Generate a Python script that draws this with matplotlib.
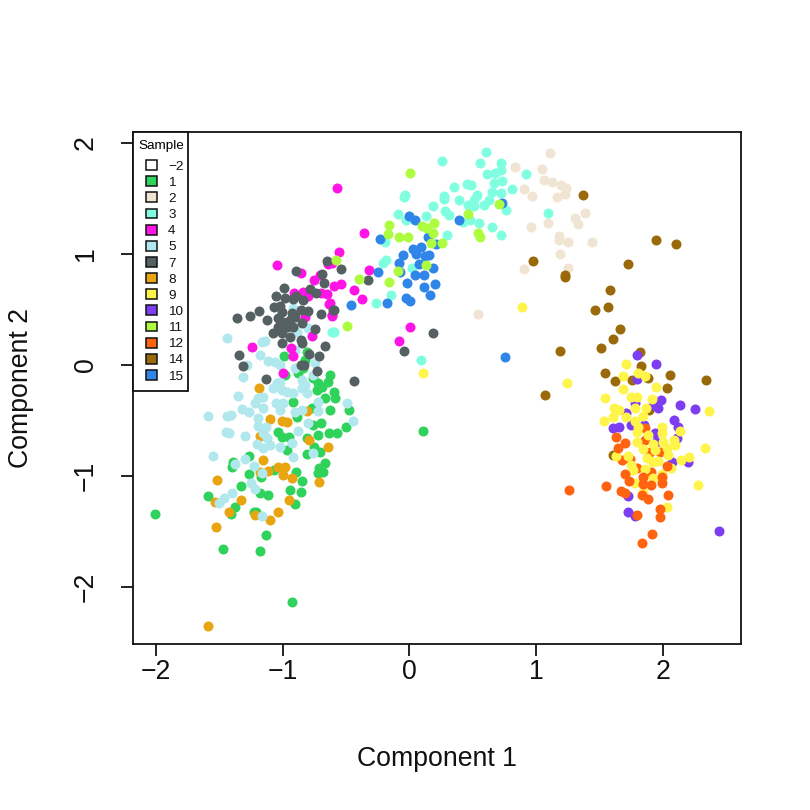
import matplotlib
matplotlib.use("Agg")
import matplotlib.pyplot as plt
from matplotlib.patches import Patch, Rectangle

plt.rcParams['font.family'] = ['Liberation Sans', 'DejaVu Sans']

x1 = [-2.005,-1.589,-1.389,-1.397,-1.263,-1.268,-1.326,-1.171,-1.068,-1.179,-1.118,-1.373,-1.408,-1.210,-1.223,-1.131,-1.468,-1.176,-0.929,-0.903,-0.939,-0.855,-0.845,-0.892,-0.710,-0.663,-0.718,-0.679,-0.810,-0.705,-0.752,-0.718,-0.810,-0.947,-1.008,-1.039,-0.968,-0.631,-0.573,-0.502,-0.697,-0.758,-0.479,-0.626,-0.666,-0.584,-0.595,-0.626,-0.639,-0.692,-0.731,-0.758,-0.718,-0.916,-0.889,-0.771,-0.989,-0.810,-0.981,-0.876,-0.823,-0.837,0.110]
y1 = [-1.340,-1.183,-0.871,-0.916,-0.820,-0.985,-1.093,-1.012,-0.946,-1.150,-1.174,-1.282,-1.346,-1.322,-1.328,-1.535,-1.658,-1.673,-2.135,-1.252,-1.129,-1.141,-1.042,-0.964,-0.931,-0.883,-0.976,-0.964,-0.805,-0.781,-0.736,-0.631,-0.661,-0.652,-0.652,-0.601,-0.766,-0.616,-0.616,-0.562,-0.526,-0.541,-0.409,-0.406,-0.300,-0.300,-0.240,-0.090,-0.150,-0.195,-0.225,-0.120,-0.165,-0.331,-0.472,-0.391,0.081,0.120,-0.090,-0.075,0.045,-0.030,-0.595]
x2 = [1.110,0.836,1.047,1.062,1.123,1.199,1.236,1.223,1.165,0.907,0.963,1.386,1.307,1.326,1.091,0.955,1.176,1.176,1.247,1.436,1.191,0.902,1.252,0.539]
y2 = [1.907,1.787,1.763,1.667,1.646,1.625,1.592,1.538,1.510,1.586,1.522,1.366,1.321,1.267,1.282,1.246,1.162,1.126,1.105,1.105,1.000,0.868,0.871,0.462]
x3 = [0.602,0.257,0.555,0.718,0.718,0.610,0.676,0.920,0.452,0.484,0.349,0.668,0.728,0.805,-0.035,-0.045,0.273,0.273,0.531,0.649,0.723,0.389,0.505,0.465,0.510,0.628,0.591,0.184,0.284,0.315,0.760,0.128,-0.090,-0.027,0.426,0.478,0.549,0.652,0.720,0.297,1.089,-0.193,0.018,-0.185,-0.211,-0.145,-0.261,-0.598,0.089,-0.610]
y3 = [1.922,1.835,1.823,1.817,1.757,1.718,1.727,1.718,1.631,1.622,1.607,1.637,1.658,1.586,1.532,1.517,1.522,1.492,1.532,1.562,1.547,1.483,1.486,1.441,1.435,1.486,1.438,1.435,1.387,1.348,1.396,1.345,1.360,1.303,1.291,1.306,1.279,1.240,1.174,1.171,1.372,1.111,0.871,0.946,0.919,0.628,0.559,0.297,0.048,0.300]
x4 = [-0.572,-0.356,-0.556,-0.316,-0.614,-0.593,-0.543,-0.437,-0.374,-0.627,-0.614,0.005,-0.080,-1.044,-0.858,-0.639,-0.705,-0.752,-0.837,-0.910,-0.652,-0.797,-0.700,-0.634,-0.613,-0.823,-0.771,-1.239,-0.937,-0.916,-0.994]
y4 = [1.598,1.189,1.021,0.856,0.916,0.712,0.730,0.673,0.597,0.556,0.444,0.339,0.213,0.904,0.826,0.910,0.811,0.766,0.661,0.646,0.640,0.625,0.646,0.549,0.447,0.435,0.261,0.159,0.150,0.081,-0.069]
x5 = [-1.437,-1.139,-1.166,-1.279,-1.179,-1.113,-1.060,-1.021,-1.310,-0.915,-0.889,-0.797,-0.902,-0.745,-0.902,-1.350,-1.192,-1.152,-1.218,-1.047,-1.021,-1.073,-1.008,-0.968,-0.916,-0.850,-0.823,-0.850,-0.810,-0.758,-1.055,-0.994,-1.021,-1.318,-1.266,-1.152,-1.587,-1.437,-1.410,-1.192,-0.902,-0.850,-0.718,-0.718,-0.494,-0.447,-0.802,-1.192,-1.131,-0.876,-1.447,-1.421,-1.300,-1.152,-1.126,-1.205,-1.152,-1.100,-1.021,-0.923,-0.918,-0.763,-1.552,-1.297,-1.376,-1.226,-1.160,-1.252,-1.218,-1.397,-1.466,-1.500,-1.166]
y5 = [0.240,0.219,0.207,0.000,0.087,0.039,0.024,0.000,-0.105,0.510,0.300,0.330,0.135,0.015,-0.030,-0.277,-0.300,-0.286,-0.346,-0.165,-0.150,-0.210,-0.225,-0.240,-0.255,-0.135,-0.180,-0.210,-0.255,-0.090,-0.346,-0.346,-0.406,-0.400,-0.427,-0.391,-0.463,-0.460,-0.451,-0.481,-0.421,-0.406,-0.331,-0.412,-0.340,-0.505,-0.526,-0.547,-0.556,-0.592,-0.607,-0.613,-0.643,-0.616,-0.661,-0.715,-0.751,-0.721,-0.736,-0.706,-0.826,-0.796,-0.823,-0.850,-0.892,-0.907,-0.976,-1.066,-1.120,-1.153,-1.201,-1.247,-1.358]
x7 = [-0.652,-0.894,-0.692,-0.671,-0.989,-0.784,-0.739,-1.052,-0.981,-0.916,-0.897,-0.837,-1.066,-1.021,-1.008,-0.923,-0.855,-0.797,-0.700,-0.600,-1.184,-1.258,-1.358,-1.123,-1.034,-0.994,-0.942,-0.902,-1.034,-0.968,-0.916,-0.850,-1.008,-1.073,-0.942,-0.742,-1.008,-0.855,-0.850,-0.666,-1.344,-0.792,-0.710,-1.316,-0.858,-0.829,-0.731,-1.131,-0.434,-0.543,-0.324,-0.598,0.189,-0.043]
y7 = [0.940,0.847,0.820,0.742,0.697,0.682,0.651,0.621,0.606,0.592,0.625,0.585,0.525,0.534,0.480,0.465,0.495,0.486,0.456,0.495,0.483,0.444,0.426,0.405,0.420,0.390,0.405,0.435,0.345,0.345,0.345,0.381,0.291,0.291,0.255,0.321,0.201,0.225,0.195,0.171,0.090,0.102,0.084,-0.009,-0.003,0.000,-0.054,-0.123,-0.141,0.862,0.763,0.498,0.288,0.123]
x8 = [-1.189,-1.100,-1.008,-0.968,-0.810,-1.179,-0.792,-0.642,-1.158,-1.116,-1.034,-0.982,-0.995,-0.923,-0.716,-1.516,-1.531,-1.331,-0.947,-1.421,-1.218,-1.034,-1.102,-1.529,-1.589,-1.179]
y8 = [-0.210,-0.487,-0.505,-0.517,-0.412,-0.637,-0.679,-0.736,-0.859,-0.952,-0.922,-0.916,-0.991,-1.021,-1.057,-1.033,-1.232,-1.216,-1.216,-1.325,-1.352,-1.328,-1.397,-1.457,-2.349,-0.961]
x9 = [1.711,1.682,1.803,1.858,1.948,1.682,1.545,1.745,1.798,1.911,1.240,1.614,1.651,1.782,1.869,2.363,1.603,1.537,1.708,1.842,1.777,1.806,1.793,1.992,2.137,1.992,1.885,1.793,2.003,2.090,2.095,1.919,1.840,1.937,2.029,2.332,2.042,1.871,1.924,1.963,2.145,2.208,1.722,1.629,1.748,1.766,1.858,2.061,1.990,1.919,2.274,1.779,1.845,2.029,0.889,0.107]
y9 = [0.009,-0.096,-0.072,-0.099,-0.202,-0.220,-0.295,-0.286,-0.292,-0.304,-0.159,-0.388,-0.406,-0.388,-0.391,-0.418,-0.466,-0.502,-0.466,-0.457,-0.502,-0.556,-0.604,-0.556,-0.592,-0.616,-0.631,-0.691,-0.691,-0.676,-0.721,-0.712,-0.760,-0.766,-0.751,-0.745,-0.811,-0.841,-0.871,-0.862,-0.853,-0.832,-0.820,-0.820,-0.901,-0.946,-0.940,-0.928,-0.982,-1.021,-1.084,-1.066,-1.147,-1.277,0.522,-0.075]
x10 = [1.795,1.948,1.793,2.137,2.253,1.985,1.964,1.919,1.782,1.708,1.606,1.656,1.748,2.084,2.116,1.850,1.937,2.108,1.945,2.069,2.198,1.727,1.727,1.782,2.445]
y10 = [0.087,0.006,-0.123,-0.358,-0.394,-0.319,-0.391,-0.361,-0.346,-0.436,-0.568,-0.556,-0.544,-0.496,-0.556,-0.541,-0.616,-0.661,-0.691,-0.874,-0.874,-1.184,-1.325,-1.358,-1.499]
x11 = [0.007,0.462,0.705,-0.164,-0.166,-0.082,-0.009,0.097,0.136,0.197,0.184,0.168,0.257,0.544,0.560,0.128,-0.088,-0.164,-0.398,-0.490,-0.580]
y11 = [1.730,1.360,1.447,1.264,1.180,1.153,1.156,1.249,1.231,1.276,1.186,1.096,1.099,1.186,1.156,0.901,0.850,0.748,0.775,0.351,0.943]
x12_under = [1.858,1.858,1.898,1.977,1.740,1.793,1.677,1.903]
y12_under = [-0.571,-0.676,-0.781,-0.781,-0.850,-0.931,-0.856,-0.961]
x12_over = [1.629,1.700,1.645,1.698,1.735,1.845,1.845,1.903,1.990,1.990,2.034,2.042,1.669,1.700,1.879,1.551,1.259,1.977,1.977,1.795,1.914,1.832,1.832]
y12_over = [-0.646,-0.706,-0.751,-0.985,-1.048,-1.012,-1.072,-1.084,-1.066,-1.006,-0.913,-1.175,-1.135,-1.156,-1.210,-1.093,-1.126,-1.295,-1.370,-1.349,-1.520,-1.604,-1.171]
x14 = [1.945,2.103,0.977,1.722,1.230,1.230,1.585,1.466,1.569,1.658,1.608,1.514,1.190,1.816,1.827,1.540,2.056,1.885,1.619,1.756,2.342,2.032,1.067,1.887,1.603,1.370]
y14 = [1.126,1.087,0.934,0.907,0.810,0.789,0.678,0.492,0.522,0.327,0.237,0.153,0.129,0.120,-0.012,-0.069,-0.087,-0.117,-0.144,-0.132,-0.132,-0.207,-0.271,-0.409,-0.814,1.532]
x15 = [-0.003,0.047,-0.232,0.394,0.144,0.210,0.026,0.094,0.049,-0.051,0.120,0.157,-0.080,0.078,0.184,-0.251,-0.072,0.041,0.112,-0.022,0.202,0.118,0.160,-0.030,0.005,-0.180,-0.464,0.755,0.728]
y15 = [1.339,1.306,1.132,1.303,1.150,1.093,1.042,1.066,0.997,0.991,0.982,0.991,0.919,0.907,0.877,0.838,0.838,0.811,0.808,0.736,0.733,0.700,0.634,0.604,0.574,0.559,0.538,0.072,1.456]

sample_labels = ['\u22122','1','2','3','4','5','7','8','9','10','11','12','14','15']
sample_colors = ['#FFFFFF','#2FD25A','#F0E4D3','#7FFFE0','#FF14E6','#B0E8EE','#556062','#E8A50F','#FFF44A','#7D3DF0','#ADFC3F','#FF6310','#9A6A0A','#2F86E8']
color = dict(zip(sample_labels, sample_colors))

layers = [(x1,y1,'1'),(x8,y8,'8'),(x5,y5,'5'),(x4,y4,'4'),(x7,y7,'7'),(x2,y2,'2'),(x3,y3,'3'),
          (x15,y15,'15'),(x11,y11,'11'),(x14,y14,'14'),(x10,y10,'10'),(x12_under,y12_under,'12'),
          (x9,y9,'9'),(x12_over,y12_over,'12')]

fig = plt.figure(figsize=(8.1,8.1), dpi=100)
ax = fig.add_axes([133/810, 1-644/810, (741-133)/810, (644-132)/810])
for xs, ys, key in layers:
    ax.scatter(xs, ys, s=52, c=color[key], linewidths=0, zorder=2)

ax.set_xlim(-2.181, 2.615)
ax.set_ylim(-2.514, 2.099)
ax.set_xticks([-2,-1,0,1,2])
ax.set_yticks([-2,-1,0,1,2])
ax.set_xticklabels(['\u22122','\u22121','0','1','2'])
ax.set_yticklabels(['\u22122','\u22121','0','1','2'], rotation=90, va='center')
ax.tick_params(length=8.6, width=1.3, labelsize=19.2, color='#111111', labelcolor='#111111')
ax.tick_params(axis='x', pad=2)
ax.tick_params(axis='y', pad=16)
for s in ax.spines.values():
    s.set_linewidth(1.3)
    s.set_color('#111111')
fig.text(437/810, 1-759/810, 'Component 1', ha='center', va='center', fontsize=19.2, color='#111111')
fig.text(21/810, 1-388/810, 'Component 2', ha='center', va='center', rotation=90, fontsize=19.2, color='#111111')

ax.add_patch(Rectangle((0, 1-259/512), 55/608, 259/512, transform=ax.transAxes, facecolor='white',
                       edgecolor='#111111', linewidth=1.3, zorder=4, clip_on=False))
handles = [Patch(facecolor=c, edgecolor='#111111', linewidth=1.1) for c in sample_colors]
leg = ax.legend(handles, sample_labels, title='Sample', loc='upper left', bbox_to_anchor=(5/608, 1-7.7/512),
                borderaxespad=0, fontsize=9.7, title_fontsize=9.7, frameon=False, alignment='right',
                handlelength=0.8, handleheight=0.75, handletextpad=0.85, labelspacing=0.26,
                borderpad=0, labelcolor='#111111')
leg._legend_box.sep = 6.1
leg.set_zorder(5)
fig.savefig('out.png', dpi=100)
